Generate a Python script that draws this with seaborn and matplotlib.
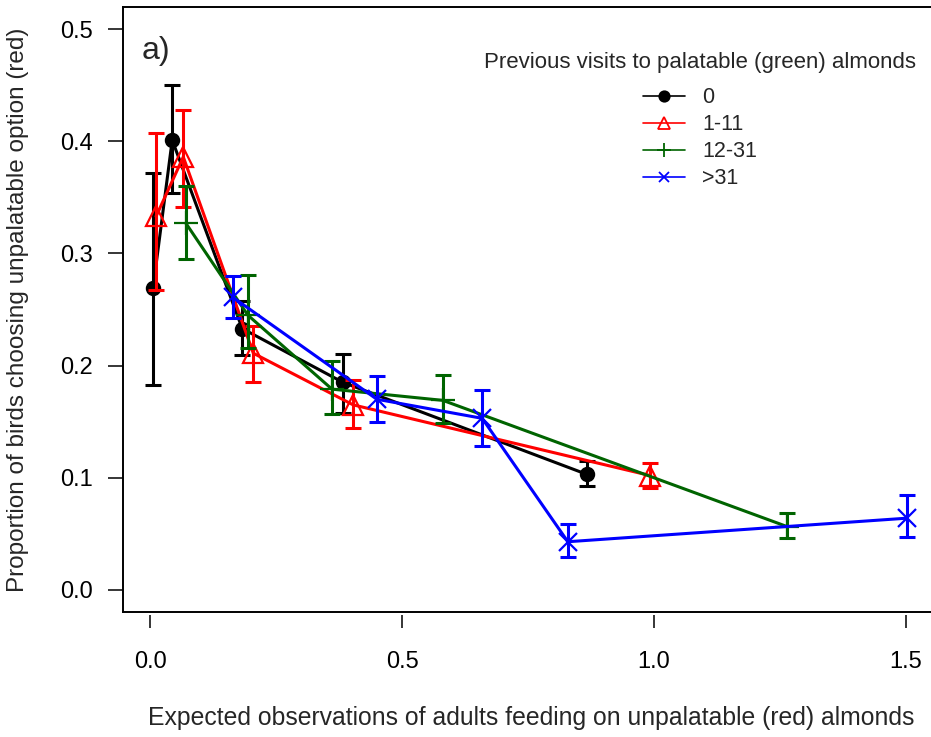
import numpy as np
import pandas as pd
import matplotlib
matplotlib.use("Agg")
import matplotlib.pyplot as plt
import seaborn as sns
from matplotlib.lines import Line2D

# ---- data ----
groups = ["0", "1-11", "12-31", ">31"]

x_0 = [0.006, 0.044, 0.183, 0.383, 0.867]
y_0 = [0.269, 0.401, 0.233, 0.185, 0.103]
lo_0 = [0.183, 0.354, 0.209, 0.158, 0.093]
hi_0 = [0.372, 0.450, 0.258, 0.210, 0.115]

x_1 = [0.012, 0.066, 0.205, 0.403, 0.992]
y_1 = [0.333, 0.386, 0.211, 0.165, 0.102]
lo_1 = [0.267, 0.341, 0.185, 0.144, 0.091]
hi_1 = [0.407, 0.428, 0.235, 0.187, 0.113]

x_2 = [0.071, 0.194, 0.361, 0.581, 1.264]
y_2 = [0.327, 0.245, 0.179, 0.169, 0.0565]
lo_2 = [0.295, 0.216, 0.157, 0.149, 0.046]
hi_2 = [0.360, 0.281, 0.204, 0.192, 0.069]

x_3 = [0.164, 0.450, 0.659, 0.829, 1.502]
y_3 = [0.261, 0.170, 0.153, 0.043, 0.064]
lo_3 = [0.242, 0.150, 0.128, 0.029, 0.047]
hi_3 = [0.280, 0.191, 0.178, 0.059, 0.085]

x_ticks = [0.0, 0.5, 1.0, 1.5]
y_ticks = [0.0, 0.1, 0.2, 0.3, 0.4, 0.5]

series = {
    "0": (x_0, y_0, lo_0, hi_0),
    "1-11": (x_1, y_1, lo_1, hi_1),
    "12-31": (x_2, y_2, lo_2, hi_2),
    ">31": (x_3, y_3, lo_3, hi_3),
}

frames = []
for g in groups:
    xs, ys, los, his = series[g]
    frames.append(pd.DataFrame({"x": xs, "y": ys, "lo": los, "hi": his, "group": g}))
df = pd.concat(frames, ignore_index=True)

colors = {"0": "#000000", "1-11": "#FF0000", "12-31": "#006400", ">31": "#0000FF"}
markers = {"0": "o", "1-11": "^", "12-31": "+", ">31": "x"}
msizes = {"0": 9.5, "1-11": 15, "12-31": 17, ">31": 13}
mfc = {"0": "#000000", "1-11": "none", "12-31": "none", ">31": "none"}

sns.set_style("white")
plt.rcParams["font.family"] = ["Liberation Sans", "DejaVu Sans"]

W, H = 931, 737
fig = plt.figure(figsize=(W / 100, H / 100), dpi=100)
# axes placement (pixels): left 122.8, right 936.3, top 6.6, bottom 612.4
AX_L, AX_R, AX_T, AX_B = 122.8, 936.3, 6.6, 612.4
ax = fig.add_axes([AX_L / W, (H - AX_B) / H, (AX_R - AX_L) / W, (AX_B - AX_T) / H])

for g in groups:
    sub = df[df["group"] == g]
    c = colors[g]
    sns.lineplot(data=sub, x="x", y="y", ax=ax, color=c, linewidth=2.2,
                 marker=markers[g], markersize=msizes[g], markerfacecolor=mfc[g],
                 markeredgecolor=c, markeredgewidth=1.6, errorbar=None, legend=False,
                 zorder=3)
    ax.errorbar(sub["x"], sub["y"], yerr=[sub["y"] - sub["lo"], sub["hi"] - sub["y"]],
                fmt="none", ecolor=c, elinewidth=2.2, capsize=5.5, capthick=2.2, zorder=3)

ax.set_xlim(-0.054, 1.56)
ax.set_ylim(-0.02, 0.52)
ax.set_xticks(x_ticks)
ax.set_xticklabels([f"{v:.1f}" for v in x_ticks])
ax.set_yticks(y_ticks)
ax.set_yticklabels([f"{v:.1f}" for v in y_ticks])

for s in ["top", "left", "right"]:
    ax.spines[s].set_visible(True)
    ax.spines[s].set_color("black")
    ax.spines[s].set_linewidth(1.4)
# bottom: slightly detached ticks, box edge drawn separately
ax.spines["bottom"].set_position(("outward", 2))
ax.spines["bottom"].set_visible(False)
ax.plot([0, 1], [0, 0], transform=ax.transAxes, color="black", lw=1.4, clip_on=False, zorder=5)

ax.tick_params(axis="x", direction="out", length=9.5, width=1.1, pad=16, labelsize=17,
               bottom=True, colors="black")
ax.tick_params(axis="y", direction="out", length=10.8, width=1.1, pad=10.5, labelsize=17,
               left=True, colors="black")

ax.set_xlabel("Expected observations of adults feeding on unpalatable (red) almonds",
              fontsize=17.8, va="center")
ax.xaxis.set_label_coords((531 - AX_L) / (AX_R - AX_L), (AX_B - 718) / (AX_B - AX_T))
ax.set_ylabel("Proportion of birds choosing unpalatable option (red)", fontsize=17.5,
              va="center")
ax.yaxis.set_label_coords((18 - AX_L) / (AX_R - AX_L), (AX_B - 310) / (AX_B - AX_T))

fig.text(142 / W, 1 - 51 / H, "a)", fontsize=23, va="center", ha="left")

leg_ms = {"0": 7.5, "1-11": 9, "12-31": 10, ">31": 7.5}
handles = []
for g in groups:
    c = colors[g]
    handles.append(Line2D([0], [0], color=c, lw=1.2, marker=markers[g],
                          markersize=leg_ms[g], markerfacecolor=mfc[g],
                          markeredgecolor=c, markeredgewidth=1.3))
leg = ax.legend(handles, groups, title="Previous visits to palatable (green) almonds",
                loc="upper center", bbox_to_anchor=(700 / W, 1 - 33 / H),
                bbox_transform=fig.transFigure, frameon=False, fontsize=15.5,
                title_fontsize=16, handlelength=1.95, handletextpad=0.8,
                labelspacing=0.28)
leg._legend_box.sep = 10

fig.savefig("out.png", dpi=100)
